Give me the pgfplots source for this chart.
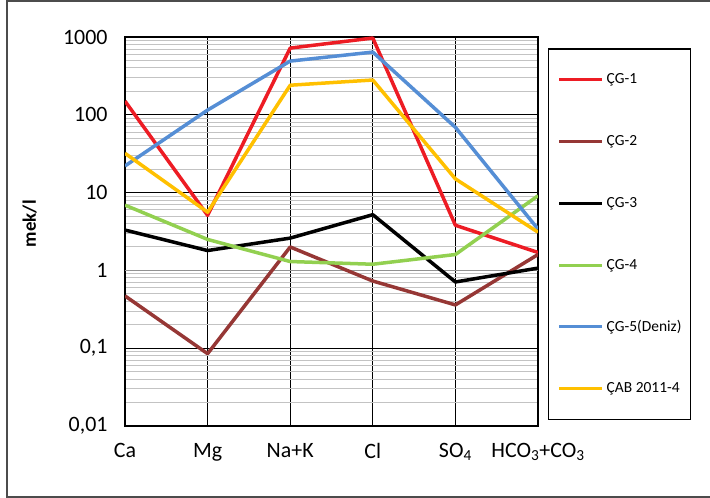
\documentclass[border=0pt]{standalone}
\usepackage{pgfplots}
\pgfplotsset{compat=1.18}
\usepackage{fontspec}
\setmainfont{Carlito}
\definecolor{cgred}{RGB}{237,28,36}
\definecolor{cgbrown}{RGB}{150,55,53}
\definecolor{cggreen}{RGB}{146,208,80}
\definecolor{cgblue}{RGB}{85,142,213}
\definecolor{cgyellow}{RGB}{255,192,0}
\definecolor{mgrid}{RGB}{195,195,195}
\begin{document}
\begin{tikzpicture}
\useasboundingbox (0,0) rectangle (710bp,498bp);
\draw[line width=1.5bp, black!70] (7bp,1bp) rectangle (714bp,497bp);
\begin{axis}[
  at={(125bp,72bp)}, anchor=south west,
  scale only axis, width=413bp, height=389bp,
  ymode=log, ymin=0.01, ymax=1000,
  xmin=0, xmax=5,
  xtick={0,1,2,3,4,5},
  xticklabels={Ca,Mg,Na+K,Cl,SO\textsubscript{4},HCO\textsubscript{3}+CO\textsubscript{3}},
  ytick={0.01,0.1,10,100,1000},
  yticklabels={{0,01},{0,1},10,100,1000},
  extra y ticks={1}, extra y tick labels={1},
  extra y tick style={grid=major, major grid style={mgrid!75!black, line width=1.6bp}},
  minor ytick={0.02,0.03,0.04,0.05,0.06,0.07,0.08,0.09,
               0.2,0.3,0.4,0.5,0.6,0.7,0.8,0.9,
               2,3,4,5,6,7,8,9,
               20,30,40,50,60,70,80,90,
               200,300,400,500,600,700,800,900},
  tick style={draw=none},
  axis line style={line width=2.8bp},
  major grid style={black, line width=0.9bp},
  minor grid style={mgrid, line width=1bp},
  ymajorgrids, yminorgrids, xmajorgrids,
  /pgf/number format/assume math mode=true,
  ticklabel style={font=\fontsize{22}{26}\selectfont},
  xticklabel style={yshift=-14bp, anchor=north},
  yticklabel style={xshift=-14bp},
  ylabel={\bfseries mek/l},
  ylabel style={font=\fontsize{19}{22}\selectfont, at={(axis description cs:-0.205,0.52)}},
  legend style={at={(1.0242,0.9717)}, anchor=north west, draw=black, line width=1.5bp,
    inner xsep=9bp, inner ysep=0pt,
    font=\fontsize{15.5}{18}\selectfont,
    nodes={inner sep=0pt, minimum height=61.8bp, anchor=west},
    /tikz/column sep=3bp},
  legend cell align=left,
  legend image code/.code={\draw[#1, line width=3bp] (0bp,0bp) -- (43bp,0bp);},
  every axis plot/.append style={line width=3.5bp, line join=round},
]
\addplot[cgred] coordinates {(0,150) (1,5.1) (2,720) (3,970) (4,3.8) (5,1.7)};
\addlegendentry{ÇG-1}
\addplot[cgbrown] coordinates {(0,0.47) (1,0.085) (2,2.0) (3,0.73) (4,0.36) (5,1.6)};
\addlegendentry{ÇG-2}
\addplot[black] coordinates {(0,3.3) (1,1.8) (2,2.6) (3,5.2) (4,0.71) (5,1.07)};
\addlegendentry{ÇG-3}
\addplot[cggreen] coordinates {(0,6.9) (1,2.5) (2,1.3) (3,1.2) (4,1.6) (5,9.1)};
\addlegendentry{ÇG-4}
\addplot[cgblue] coordinates {(0,22) (1,115) (2,490) (3,640) (4,69) (5,3.4)};
\addlegendentry{ÇG-5(Deniz)}
\addplot[cgyellow] coordinates {(0,32) (1,5.6) (2,240) (3,280) (4,15) (5,3.1)};
\addlegendentry{ÇAB 2011-4}
\end{axis}
\end{tikzpicture}
\end{document}
